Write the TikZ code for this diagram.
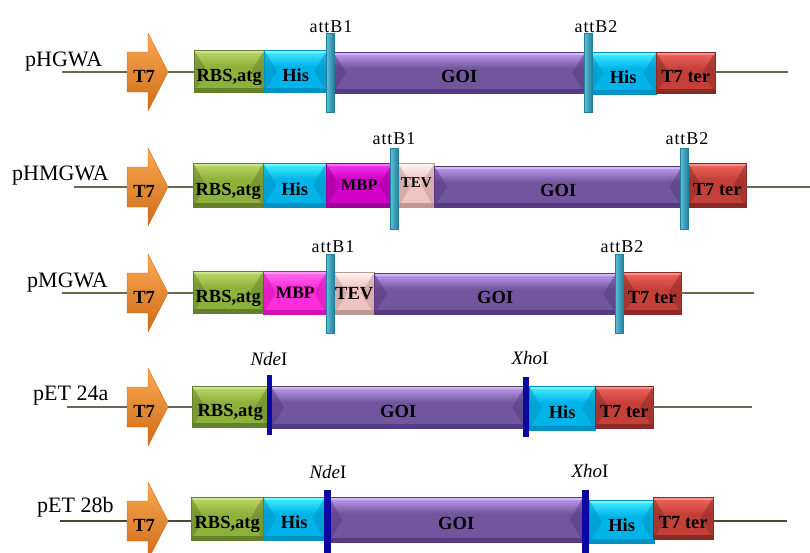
\documentclass[tikz,border=0pt]{standalone}
\usepackage{fontspec}
\setmainfont{Liberation Serif}
\newfontfamily\attfont[LetterSpace=5]{Liberation Serif}
\usetikzlibrary{calc}

% block colours: B = base, L = light top, D = dark edge
\definecolor{rbsB}{HTML}{8DB23B}\definecolor{rbsL}{HTML}{BDD966}\definecolor{rbsD}{HTML}{64802A}
\definecolor{hisB}{HTML}{00B4EA}\definecolor{hisL}{HTML}{46F2FF}\definecolor{hisD}{HTML}{0092C4}
\definecolor{goiB}{HTML}{71559D}\definecolor{goiL}{HTML}{C4A0F2}\definecolor{goiD}{HTML}{553B80}
\definecolor{terB}{HTML}{C6403A}\definecolor{terL}{HTML}{F2665E}\definecolor{terD}{HTML}{8A2A26}
\definecolor{mbpB}{HTML}{D200C6}\definecolor{mbpL}{HTML}{F23CEC}\definecolor{mbpD}{HTML}{9C0096}
\definecolor{mbqB}{HTML}{FF2EDA}\definecolor{mbqL}{HTML}{FF70F2}\definecolor{mbqD}{HTML}{CC12B0}
\definecolor{tevB}{HTML}{EFC4C0}\definecolor{tevL}{HTML}{FFF4F2}\definecolor{tevD}{HTML}{BE9894}
\definecolor{t7L}{HTML}{FAAA52}\definecolor{t7B}{HTML}{F08A28}\definecolor{t7D}{HTML}{CF6A16}
\definecolor{attL}{HTML}{5CC2DA}\definecolor{attD}{HTML}{22809C}
\definecolor{siteB}{HTML}{0A0AA0}
\definecolor{dnaC}{HTML}{6E6650}
\definecolor{dnaK}{HTML}{4E4632}

\newcommand\segfont{\fontsize{18.5}{20}\selectfont\bfseries}

\tikzset{
  seg/.style={fill=#1B, draw=#1D, line width=.4pt, inner sep=0pt,
    font=\segfont, text height=20pt, text depth=0pt,
    path picture={
      \path (path picture bounding box.north west) coordinate (pNW)
            (path picture bounding box.north east) coordinate (pNE)
            (path picture bounding box.south west) coordinate (pSW)
            (path picture bounding box.south east) coordinate (pSE);
      \shade[top color=#1L, bottom color=#1B] (pNW) rectangle ($(pNE)+(0pt,-16pt)$);
      \fill[#1D] ($(pSW)+(0pt,4pt)$) rectangle (pSE);
      \fill[#1D, opacity=.5] (pNW) -- ($(pNW)!.5!(pSW)+(13pt,0pt)$) -- (pSW) -- cycle;
      \fill[#1D, opacity=.5] (pNE) -- ($(pNE)!.5!(pSE)+(-13pt,0pt)$) -- (pSE) -- cycle;
      \fill[white, opacity=.3] (pNW) rectangle ($(pNE)+(0pt,-2.5pt)$);
    }},
  attbar/.style={inner sep=0pt, left color=attL, right color=attD, draw=attD, line width=.3pt},
  cutbar/.style={inner sep=0pt, fill=siteB, draw=none},
  t7box/.style={inner sep=0pt, minimum width=34pt, minimum height=40pt, anchor=west,
    font=\segfont, text height=20pt, text depth=0pt},
  t7shape/.style={top color=t7L, middle color=t7B, bottom color=t7D, draw=t7D, line width=.4pt},
  dna/.style={draw=dnaC, line width=1.3pt},
  plabel/.style={inner sep=0pt, anchor=base west, font=\fontsize{22}{24}\selectfont},
  attlbl/.style={inner sep=0pt, anchor=base, font=\attfont\fontsize{18}{20}\selectfont},
  cutlbl/.style={inner sep=0pt, anchor=base, font=\fontsize{19}{21}\selectfont},
}

% \seg[options]{name}{x left}{x right}{y top}{y bottom}{colour}{text}
\newcommand\seg[8][]{\node[seg=#7, anchor=north west,
  minimum width={(#4-#3)*1pt}, minimum height={(#6-#5)*1pt}, #1] (#2) at (#3,#5) {#8};}
% \sitebar{name}{style}{x left}{x right}{y top}{y bottom}
\newcommand\sitebar[6]{\node[#2, anchor=north west,
  minimum width={(#4-#3)*1pt}, minimum height={(#6-#5)*1pt}] (#1) at (#3,#5) {};}
% \promoter{name}{centre y}: T7 arrow with its tip coordinate name-tip
\newcommand\promoter[2]{%
  \shade[t7shape] (127,#2-20) -- (148,#2-20) -- (148,#2-39) -- (168,#2)
    -- (148,#2+39) -- (148,#2+20) -- (127,#2+20) -- cycle;
  \node[t7box] (#1) at (127,#2) {T7};
  \coordinate (#1-tip) at (168,#2);}
% \backbone[options]{start}{promoter}{first block}{last block}{end}: DNA line pieces
\newcommand\backbone[6][]{%
  \draw[dna,#1] (#2) -- (#3.west);
  \draw[dna,#1] (#3-tip) -- (#3-tip -| #4.west);
  \draw[dna,#1] (#5.east |- #6) -- (#6);}

\begin{document}
\begin{tikzpicture}[x=1pt,y=-1pt]
\useasboundingbox (0,0) rectangle (810,552);
\clip (0,0) rectangle (810,552);

% ---------------- pHGWA ----------------
\node[plabel] (n1) at (25,66) {pHGWA};
\coordinate (s1) at (62,72); \coordinate (e1) at (788,72);
\promoter{p1}{72}
\seg{r1a}{194}{264}{50}{92}{rbs}{RBS,atg}
\seg{r1b}{264}{327}{50}{92}{his}{His}
\seg{r1c}{333}{585}{52}{93}{goi}{GOI}
\seg{r1d}{590}{656}{52}{94}{his}{His}
\seg{r1e}{656}{715}{52}{93}{ter}{T7 ter}
\backbone{s1}{p1}{r1a}{r1e}{e1}
\sitebar{r1x}{attbar}{326}{334}{33}{112}
\sitebar{r1y}{attbar}{584}{592}{33}{112}
\node[attlbl] (r1xl) at (331,32) {attB1};
\node[attlbl] (r1yl) at (596,32) {attB2};

% ---------------- pHMGWA ----------------
\node[plabel] (n2) at (12,180) {pHMGWA};
\coordinate (s2) at (74,187); \coordinate (e2) at (812,187);
\promoter{p2}{187}
\seg{r2a}{193}{263}{163}{207}{rbs}{RBS,atg}
\seg{r2b}{263}{326}{163}{207}{his}{His}
\seg[font=\fontsize{16.5}{18}\selectfont\bfseries, text height=11pt]{r2c}{326}{392}{163}{207}{mbp}{MBP}
\seg[font=\fontsize{15}{16}\selectfont\bfseries, text height=4pt]{r2d}{398}{434}{163}{207}{tev}{TEV}
\seg{r2e}{434}{682}{166}{207}{goi}{GOI}
\seg{r2f}{688}{746}{163}{207}{ter}{T7 ter}
\backbone{s2}{p2}{r2a}{r2f}{e2}
\sitebar{r2x}{attbar}{390}{398}{148}{229}
\sitebar{r2y}{attbar}{680}{688}{148}{229}
\node[attlbl] (r2xl) at (394,144) {attB1};
\node[attlbl] (r2yl) at (687,144) {attB2};

% ---------------- pMGWA ----------------
\node[plabel] (n3) at (27,287) {pMGWA};
\coordinate (s3) at (62,293); \coordinate (e3) at (754,293);
\promoter{p3}{293}
\seg{r3a}{193}{263}{271}{313}{rbs}{RBS,atg}
\seg[font=\fontsize{17.5}{19}\selectfont\bfseries, text height=12pt]{r3b}{263}{327}{271}{314}{mbq}{MBP}
\seg[text height=12pt]{r3c}{334}{374}{272}{314}{tev}{TEV}
\seg{r3d}{374}{616}{273}{314}{goi}{GOI}
\seg{r3e}{623}{681}{272}{314}{ter}{T7 ter}
\backbone{s3}{p3}{r3a}{r3e}{e3}
\sitebar{r3x}{attbar}{326}{334}{254}{333}
\sitebar{r3y}{attbar}{615}{623}{254}{333}
\node[attlbl] (r3xl) at (333,252) {attB1};
\node[attlbl] (r3yl) at (622,252) {attB2};

% ---------------- pET 24a ----------------
\node[plabel] (n4) at (33,400) {pET 24a};
\coordinate (s4) at (67,407); \coordinate (e4) at (752,407);
\promoter{p4}{407}
\seg{r4a}{192}{268}{386}{427}{rbs}{RBS,atg}
\seg{r4b}{271}{525}{386}{428}{goi}{GOI}
\seg{r4c}{529}{595}{386}{430}{his}{His}
\seg{r4d}{595}{653}{386}{428}{ter}{T7 ter}
\backbone{s4}{p4}{r4a}{r4d}{e4}
\sitebar{r4x}{cutbar}{267}{272}{375}{435}
\sitebar{r4y}{cutbar}{523}{529}{377}{437}
\node[cutlbl] (r4xl) at (269,365) {\textit{Nde}I};
\node[cutlbl] (r4yl) at (530,364) {\textit{Xho}I};

% ---------------- pET 28b ----------------
\node[plabel] (n5) at (37,512) {pET 28b};
\coordinate (s5) at (60,521); \coordinate (e5) at (787,521);
\promoter{p5}{521}
\seg{r5a}{191}{263}{497}{540}{rbs}{RBS,atg}
\seg{r5b}{263}{325}{497}{540}{his}{His}
\seg{r5c}{329}{583}{497}{542}{goi}{GOI}
\seg{r5d}{589}{654}{500}{543}{his}{His}
\seg{r5e}{653}{713}{497}{539}{ter}{T7 ter}
\backbone[draw=dnaK]{s5}{p5}{r5a}{r5e}{e5}
\sitebar{r5x}{cutbar}{324}{331}{490}{560}
\sitebar{r5y}{cutbar}{582}{589}{490}{560}
\node[cutlbl] (r5xl) at (328,478) {\textit{Nde}I};
\node[cutlbl] (r5yl) at (590,477) {\textit{Xho}I};
\end{tikzpicture}
\end{document}
